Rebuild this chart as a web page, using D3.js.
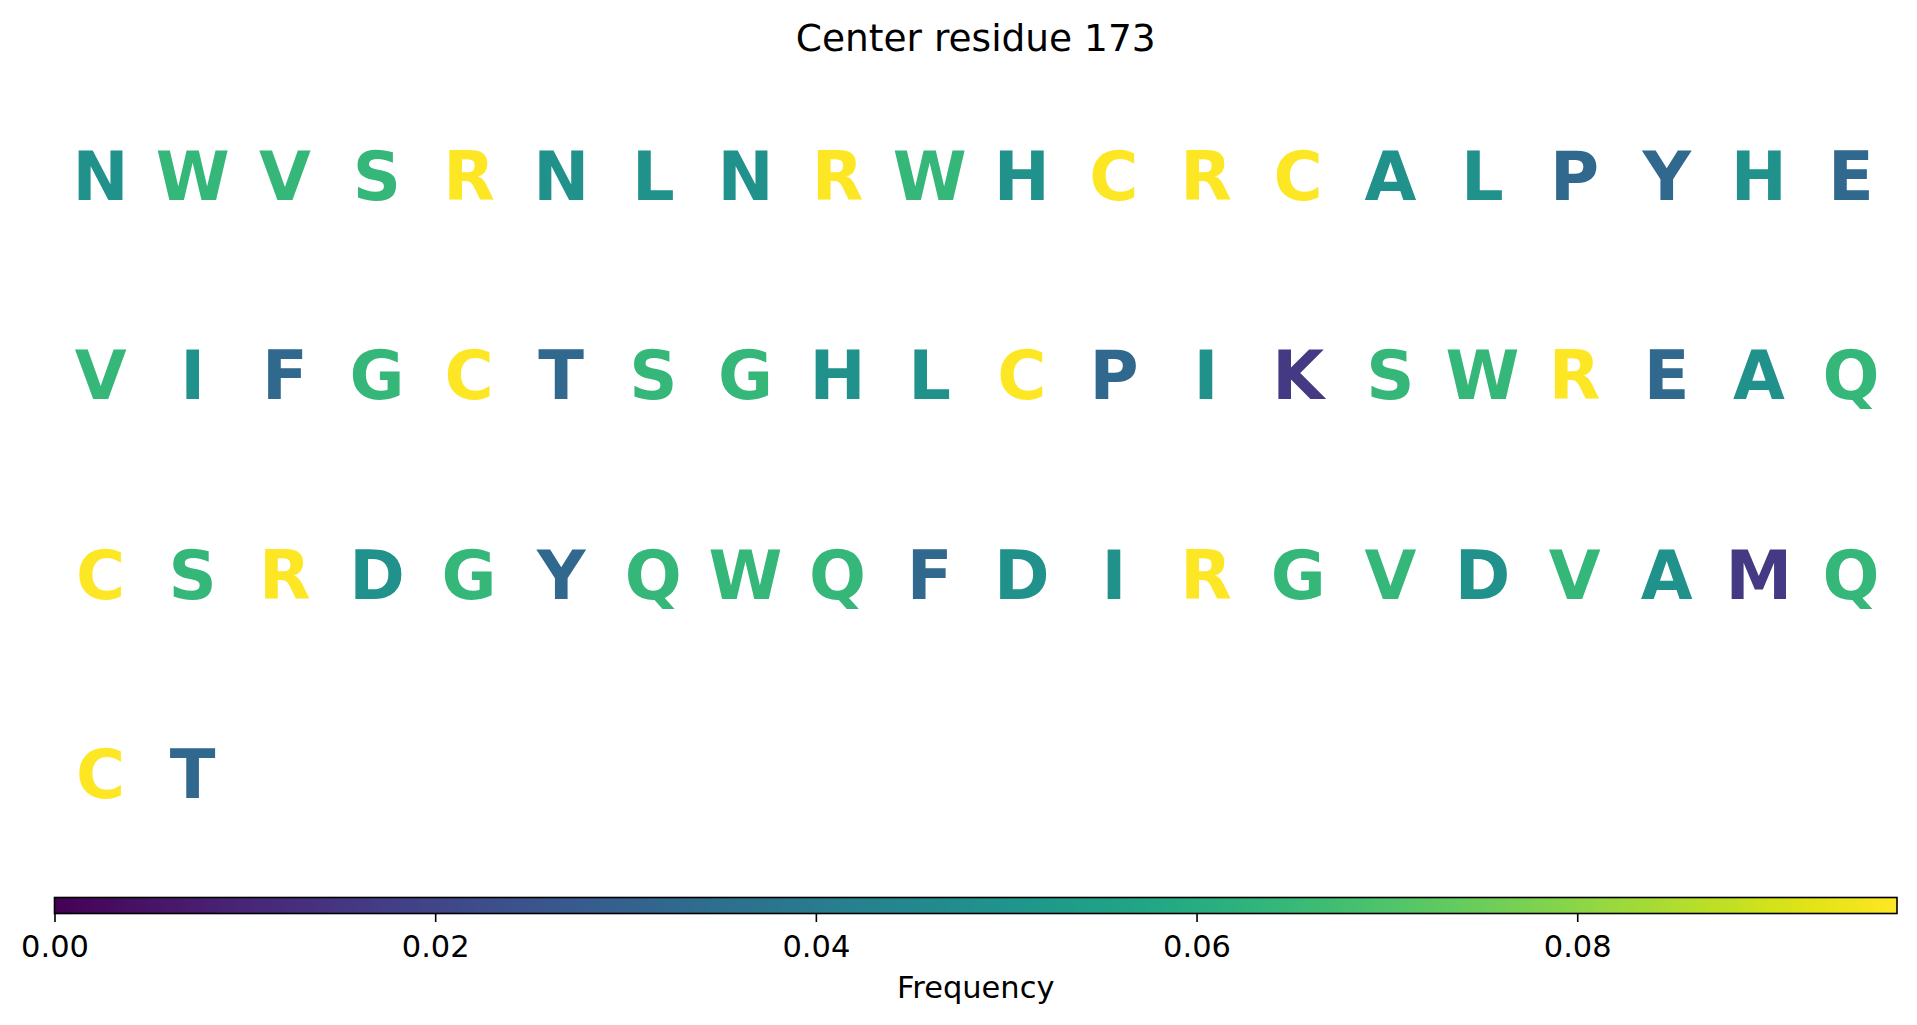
<!DOCTYPE html>
<html>
<head>
<meta charset="utf-8">
<script src="https://cdn.jsdelivr.net/npm/d3@7"></script>
<style>
  html, body { margin: 0; padding: 0; background: #fff; }
  svg { display: block; }
</style>
</head>
<body>
<svg id="chart" width="1917" height="1025"></svg>
<script>
const title = "Center residue 173";
const residues = [
  "N","W","V","S","R","N","L","N","R","W","H","C","R","C","A","L","P","Y","H","E",
  "V","I","F","G","C","T","S","G","H","L","C","P","I","K","S","W","R","E","A","Q",
  "C","S","R","D","G","Y","Q","W","Q","F","D","I","R","G","V","D","V","A","M","Q",
  "C","T"
];
const frequency = [
  0.0484,0.0645,0.0645,0.0645,0.0968,0.0484,0.0484,0.0484,0.0968,0.0645,0.0484,0.0968,0.0968,0.0968,0.0484,0.0484,0.0323,0.0323,0.0484,0.0323,
  0.0645,0.0484,0.0323,0.0645,0.0968,0.0323,0.0645,0.0645,0.0484,0.0484,0.0968,0.0323,0.0484,0.0161,0.0645,0.0645,0.0968,0.0323,0.0484,0.0645,
  0.0968,0.0645,0.0968,0.0484,0.0645,0.0323,0.0645,0.0645,0.0645,0.0323,0.0484,0.0484,0.0968,0.0645,0.0645,0.0484,0.0645,0.0484,0.0161,0.0645,
  0.0968,0.0323
];
const colorbarTicks = [0, 0.02, 0.04, 0.06, 0.08];
const colorbarLabel = "Frequency";
const nCols = 20;
const nRows = 4;

const svg = d3.select("#chart");
const left = 54.5, right = 1897;

const x = d3.scaleLinear().domain([-0.5, nCols - 0.5]).range([left, right]);
const y = d3.scaleLinear().domain([0, nRows - 1]).range([175.5, 773.5]);
const vmax = d3.max(frequency);
const color = d3.scaleSequential(d3.interpolateViridis).domain([0, vmax]);

// title
svg.append("text")
  .attr("x", (left + right) / 2).attr("y", 50.5)
  .attr("text-anchor", "middle")
  .style("font-family", "DejaVu Sans").style("font-size", "37.5px")
  .text(title);

// letters
const letterSize = 67;
const capOffset = 0.729 * letterSize / 2;
svg.append("g").selectAll("text")
  .data(residues.map((r, i) => ({ r, f: frequency[i], i })))
  .join("text")
  .attr("x", d => x(d.i % nCols))
  .attr("y", d => y(Math.floor(d.i / nCols)) + capOffset)
  .attr("text-anchor", "middle")
  .style("font-family", "DejaVu Sans").style("font-weight", "bold")
  .style("font-size", letterSize + "px")
  .attr("fill", d => color(d.f))
  .text(d => d.r);

// colorbar
const cbTop = 897.5, cbH = 16;
const cbScale = d3.scaleLinear().domain([0, vmax]).range([left, right]);
const defs = svg.append("defs");
const grad = defs.append("linearGradient").attr("id", "viridis")
  .attr("x1", "0%").attr("x2", "100%").attr("y1", "0%").attr("y2", "0%");
d3.range(0, 1.0001, 0.01).forEach(t => {
  grad.append("stop").attr("offset", (t * 100) + "%").attr("stop-color", d3.interpolateViridis(t));
});
svg.append("rect")
  .attr("x", left).attr("y", cbTop).attr("width", right - left).attr("height", cbH)
  .attr("fill", "url(#viridis)")
  .attr("stroke", "#000").attr("stroke-width", 1.6);

const axis = d3.axisBottom(cbScale).tickValues(colorbarTicks).tickFormat(d3.format(".2f"))
  .tickSize(8.5).tickPadding(13);
const ag = svg.append("g").attr("transform", `translate(0,${cbTop + cbH})`).call(axis);
ag.select(".domain").remove();
ag.selectAll(".tick line").attr("stroke", "#000").attr("stroke-width", 1.6);
ag.selectAll(".tick text")
  .attr("fill", "#000")
  .style("font-family", "DejaVu Sans").style("font-size", "30.5px");

svg.append("text")
  .attr("x", (left + right) / 2).attr("y", 998)
  .attr("text-anchor", "middle")
  .style("font-family", "DejaVu Sans").style("font-size", "30.5px")
  .text(colorbarLabel);
</script>
</body>
</html>
